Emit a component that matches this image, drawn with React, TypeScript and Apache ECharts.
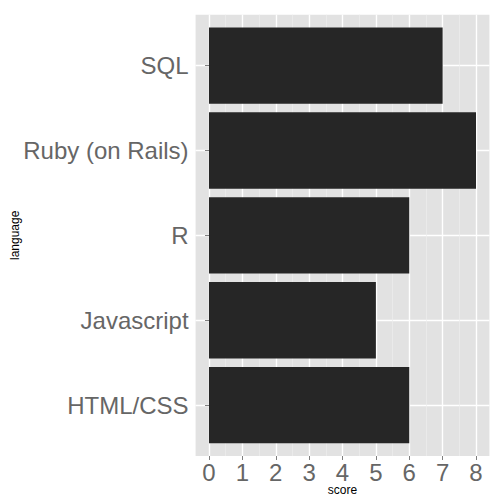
import React, { useEffect, useRef } from "react";
import * as echarts from "echarts";

const languages = ["HTML/CSS", "Javascript", "R", "Ruby (on Rails)", "SQL"];
const scores = [6, 5, 6, 8, 7];

export default function App() {
  const ref = useRef<HTMLDivElement>(null);
  useEffect(() => {
    if (!ref.current) return;
    const chart = echarts.init(ref.current, null, { renderer: "svg" });
    const font = "Liberation Sans, Arial, Helvetica, sans-serif";
    const pTop = 14.7;
    const pBottom = 456;
    const pLeft = 195.6;
    const pRight = 489.4;
    const x0 = 209;
    const x8 = 476;
    const unitY = (pBottom - pTop) / 5.2;
    const inset = unitY * 0.1;
    const centerInset = unitY * 0.6;
    chart.setOption({
      animation: false,
      grid: [
        { left: pLeft, right: 504 - pRight, top: pTop + centerInset, bottom: 504 - pBottom + centerInset, show: false },
        { left: x0, right: 504 - x8, top: pTop, bottom: 504 - pBottom, show: false },
        { left: x0, right: 504 - x8, top: pTop + inset, bottom: 504 - pBottom + inset, show: false },
      ],
      xAxis: [
        { gridIndex: 0, type: "value", min: 0, max: 1, show: false },
        {
          gridIndex: 1,
          type: "value",
          min: 0,
          max: 8,
          interval: 1,
          axisLine: { show: true, lineStyle: { color: "rgba(0,0,0,0)" } },
          axisTick: { show: true, length: 4, lineStyle: { color: "#7F7F7F", width: 1 } },
          axisLabel: { margin: 4, fontSize: 24, lineHeight: 24, color: "#666666", fontFamily: font },
          splitLine: { show: true, lineStyle: { color: "#FFFFFF", width: 1.4 } },
          minorTick: { show: false, splitNumber: 2 },
          minorSplitLine: { show: true, lineStyle: { color: "#EEEEEE", width: 0.7 } },
        },
        { gridIndex: 2, type: "value", min: 0, max: 8, show: false },
      ],
      yAxis: [
        {
          gridIndex: 0,
          type: "category",
          data: languages,
          boundaryGap: false,
          show: true,
          axisLine: { show: false },
          axisTick: { show: false },
          axisLabel: { show: false },
          splitLine: { show: true, lineStyle: { color: "#FFFFFF", width: 1.4 } },
        },
        { gridIndex: 1, type: "value", min: 0, max: 1, show: false },
        {
          gridIndex: 2,
          type: "category",
          data: languages,
          offset: x0 - pLeft,
          axisLine: { show: true, lineStyle: { color: "rgba(0,0,0,0)" } },
          axisTick: { show: true, alignWithLabel: true, length: 4, lineStyle: { color: "#7F7F7F", width: 1 } },
          axisLabel: { margin: 7, fontSize: 24, color: "#666666", fontFamily: font },
          splitLine: { show: false },
        },
      ],
      series: [
        {
          type: "bar",
          xAxisIndex: 2,
          yAxisIndex: 2,
          data: scores,
          barWidth: "90%",
          itemStyle: { color: "#262626" },
          z: 8,
        },
      ],
      graphic: [
        {
          type: "rect",
          z: -100,
          silent: true,
          shape: { x: pLeft, y: pTop, width: pRight - pLeft, height: pBottom - pTop },
          style: { fill: "#E2E2E2" },
        },
        {
          type: "text",
          x: (pLeft + pRight) / 2,
          y: 490,
          style: { text: "score", fontSize: 12, fontFamily: font, fill: "#000000", textAlign: "center", textVerticalAlign: "middle" },
        },
        {
          type: "text",
          x: 15,
          y: (pTop + pBottom) / 2,
          rotation: Math.PI / 2,
          style: { text: "language", fontSize: 12, fontFamily: font, fill: "#000000", textAlign: "center", textVerticalAlign: "middle" },
        },
      ],
    });
    return () => chart.dispose();
  }, []);
  return <div ref={ref} style={{ width: 504, height: 504, position: "absolute", left: 0, top: 0 }} />;
}
